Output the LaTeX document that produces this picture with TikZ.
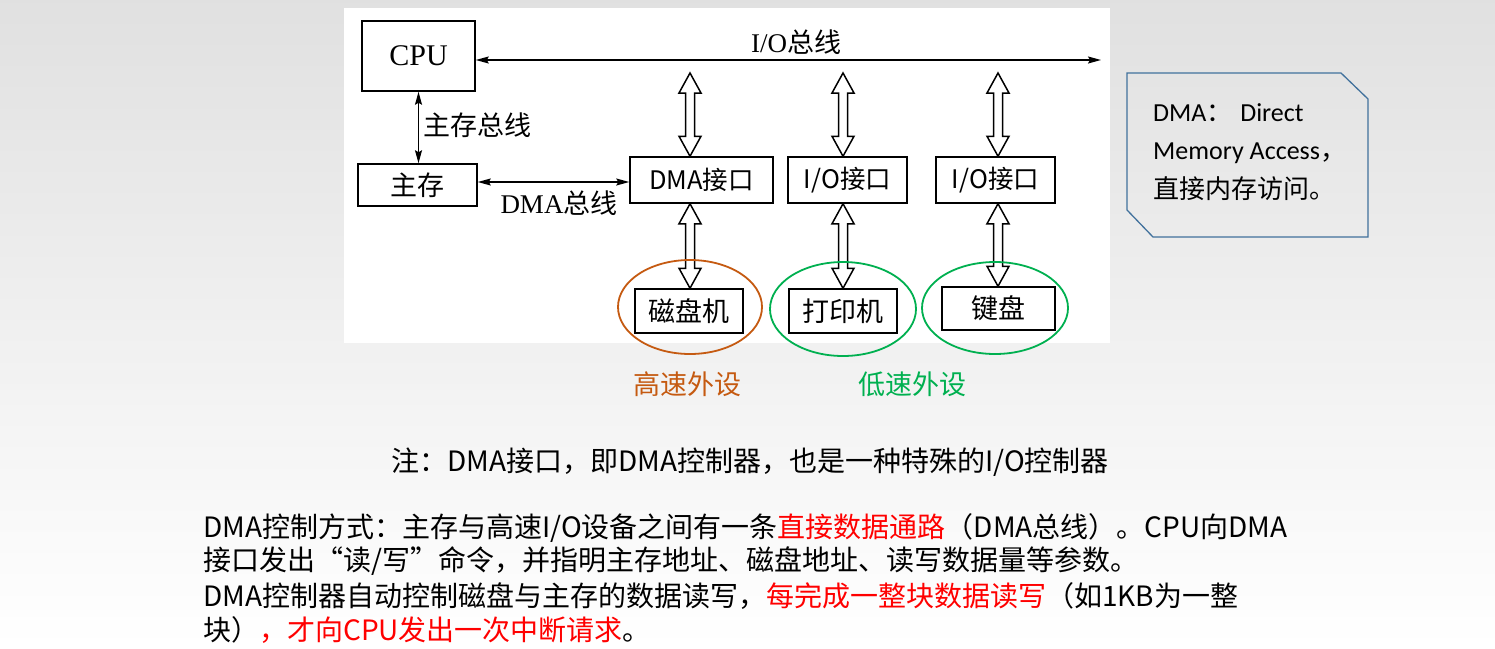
\documentclass[tikz,border=0pt]{standalone}
\usepackage{fontspec}
\setmainfont{Noto Sans CJK SC}
\newfontfamily\tms{Liberation Serif}
\newfontfamily\calib{Carlito}
\usetikzlibrary{arrows.meta,calc,shapes.geometric}
\definecolor{hsbrown}{HTML}{C55A11}
\definecolor{lsgreen}{HTML}{00B050}
\definecolor{noteblue}{HTML}{41719C}
\definecolor{hotred}{HTML}{FF0000}

\tikzset{
  unit/.style={draw, line width=1.5pt, fill=white, inner sep=0pt, font=\fontsize{25.5}{30}\selectfont},
  bus/.style={line width=1.4pt, {Stealth[length=13pt,width=7pt,inset=2pt]}-{Stealth[length=13pt,width=7pt,inset=2pt]}},
  hollow/.style={draw, line width=1.5pt, fill=white, line join=miter},
  speed/.style={draw, ellipse, line width=1.8pt, inner sep=0pt},
  lbl/.style={font=\fontsize{27}{30}\selectfont, inner sep=0pt},
  txt/.style={font=\fontsize{28}{32}\selectfont, anchor=west, inner sep=0pt},
}

% hollow two-headed arrow, from #1 straight down to #2
\newcommand\dblarrow[2]{%
  \path[hollow] let \p1=(#1), \p2=(#2) in
    (\x1,\y1) -- (\x1+11pt,\y1-20pt) -- (\x1+4.5pt,\y1-20pt) -- (\x1+4.5pt,\y2+20pt)
    -- (\x1+11pt,\y2+20pt) -- (\x1,\y2) -- (\x1-11pt,\y2+20pt) -- (\x1-4.5pt,\y2+20pt)
    -- (\x1-4.5pt,\y1-20pt) -- (\x1-11pt,\y1-20pt) -- cycle;}

\begin{document}
\begin{tikzpicture}[x=1pt, y=-1pt]
% background and white panel
\shade[top color=black!12, bottom color=white] (0,0) rectangle (1495,648);
\fill[white] (344,8) rectangle (1110,343);

% units
\node[unit, minimum width=113, minimum height=70, font=\fontsize{30}{34}\selectfont] (cpu) at (418.5,56) {\tms CPU};
\node[unit, minimum width=119, minimum height=42, font=\fontsize{27}{30}\selectfont] (mem) at (417.5,185) {主存};
\node[unit, minimum width=143, minimum height=46] (dma) at (701.5,180) {DMA接口};
\node[unit, minimum width=119, minimum height=46] (io1) at (847.5,180) {I/O接口};
\node[unit, minimum width=119, minimum height=46] (io2) at (995.5,180) {I/O接口};
\node[unit, minimum width=108, minimum height=44, font=\fontsize{27}{30}\selectfont] (disk) at (689,311) {磁盘机};
\node[unit, minimum width=108, minimum height=44, font=\fontsize{27}{30}\selectfont] (prn) at (843,311) {打印机};
\node[unit, minimum width=113, minimum height=43, font=\fontsize{27}{30}\selectfont] (kbd) at (998.5,308.5) {键盘};

% buses
\coordinate (busend) at (1101,60);
\draw[bus] (cpu.east |- busend) -- (busend);
\node[lbl] (iobus) at (796,42) {\tms I/O\rmfamily 总线};
\draw[bus] (cpu.south) -- (cpu.south |- mem.north);
\node[lbl, anchor=west] (membus) at (423,125) {主存总线};
\draw[bus] (mem.east |- 0,182) -- (dma.west |- 0,182);
\node[lbl] (dmabus) at (559,203) {\tms DMA\rmfamily 总线};

% hollow arrows
\coordinate (t1) at (690,73);
\coordinate (t2) at (843,73);
\coordinate (t3) at (998,73);
\dblarrow{t1}{t1 |- dma.north}
\dblarrow{t2}{t2 |- io1.north}
\dblarrow{t3}{t3 |- io2.north}
\dblarrow{t1 |- dma.south}{t1 |- disk.north}
\dblarrow{t2 |- io1.south}{t2 |- prn.north}
\dblarrow{t3 |- io2.south}{t3 |- kbd.north}

% speed groups
\node[speed, draw=hsbrown, minimum width=144, minimum height=94] (fast) at (690,307) {};
\node[speed, draw=lsgreen, minimum width=146, minimum height=94] (slow1) at (843,309) {};
\node[speed, draw=lsgreen, minimum width=146, minimum height=92] (slow2) at (995,308) {};
\node[lbl, text=hsbrown] (fastlbl) at (687,384) {高速外设};
\node[lbl, text=lsgreen] (slowlbl) at (912,384) {低速外设};

% callout
\draw[noteblue, line width=1.3pt] (1127,73) -- (1341,73) -- (1368,99) -- (1368,237)
  -- (1153,237) -- (1127,210) -- cycle;
\node[txt, font=\fontsize{26}{30}\selectfont] (dmaname) at (1153,113) {\calib DMA\rmfamily ：\hspace{0.3em}\calib Direct};
\node[txt, font=\fontsize{26}{30}\selectfont] (dmafull) at (1153,153) {\calib Memory Access\rmfamily ，};
\node[txt, font=\fontsize{26}{30}\selectfont] (dmazh) at (1153,189) {直接内存访问。};

% notes
\node[txt, anchor=center] (note) at (750,462) {注：DMA接口，即DMA控制器，也是一种特殊的I/O控制器};
\node[txt] (par1) at (203,528) {DMA控制方式：主存与高速I/O设备之间有一条\textcolor{hotred}{直接数据通路}（DMA总线）。CPU向DMA};
\node[txt] (par2) at (203,561) {接口发出“读/写”命令，并指明主存地址、磁盘地址、读写数据量等参数。};
\node[txt] (par3) at (203,596) {DMA控制器自动控制磁盘与主存的数据读写，\textcolor{hotred}{每完成一整块数据读写}（如1KB为一整};
\node[txt] (par4) at (203,630) {块）\textcolor{hotred}{，才向CPU发出一次中断请求}。};
\end{tikzpicture}
\end{document}
